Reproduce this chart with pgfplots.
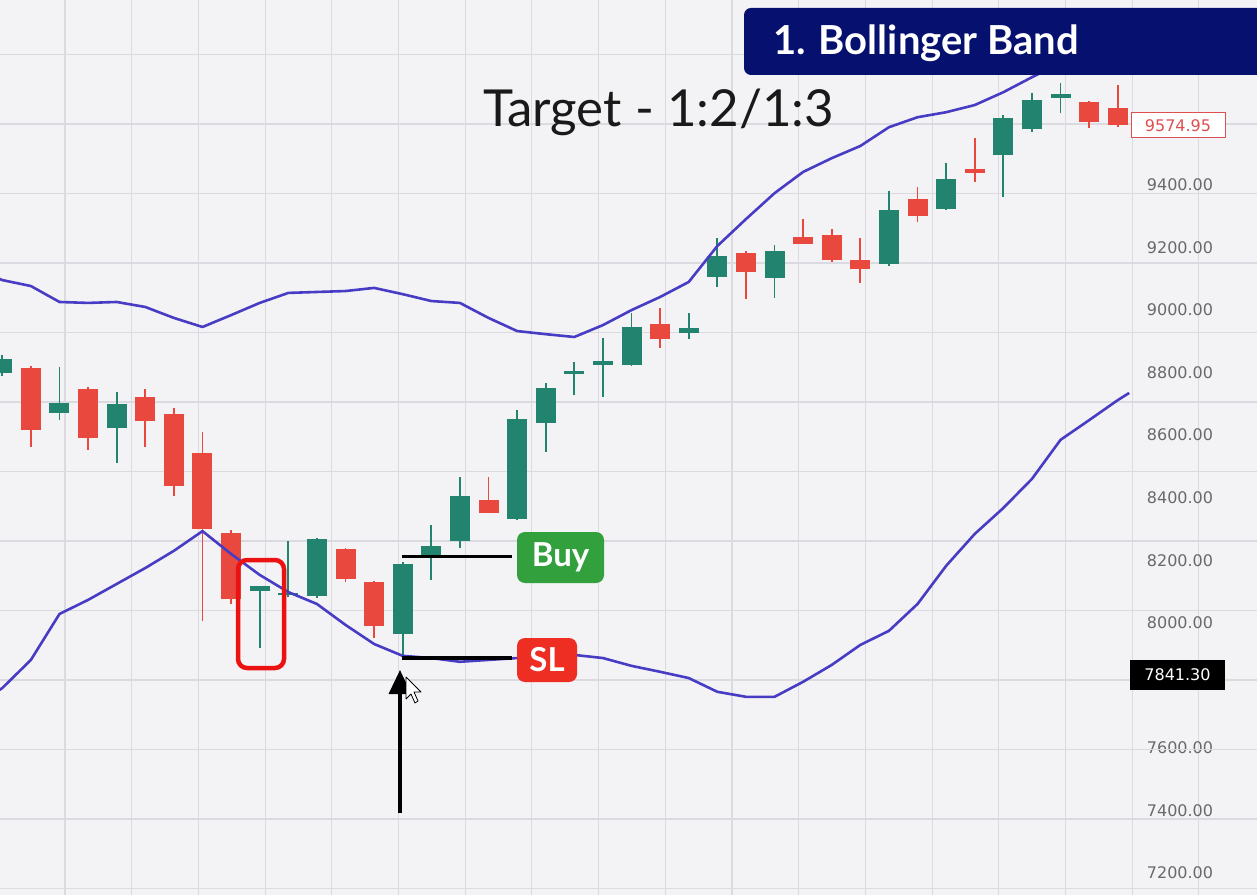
\documentclass[border=0pt]{standalone}
\usepackage{fontspec}
\setmainfont{Lato}
\newfontfamily\tickfont{DejaVu Sans}
\usepackage{pgfplots}
\usepackage{pgfplotstable}
\pgfplotsset{compat=1.18}
\usetikzlibrary{arrows.meta}

\definecolor{cgreen}{RGB}{34,132,110}
\definecolor{cred}{RGB}{232,72,62}
\definecolor{bandc}{RGB}{72,60,196}
\definecolor{gridc}{RGB}{218,218,224}
\definecolor{bgc}{RGB}{243,243,246}
\definecolor{tickgray}{RGB}{105,105,105}
\definecolor{navy}{RGB}{6,16,110}
\definecolor{buyg}{RGB}{50,160,60}
\definecolor{slred}{RGB}{238,45,35}
\definecolor{hired}{RGB}{236,18,18}
\definecolor{labred}{RGB}{222,80,80}

% candles: index, open, high, low, close
\pgfplotstableread{
i o h l c
0 8800 8855 8790 8845
2 8672 8819 8648 8704
4 8622 8739 8512 8700
9 8103 8118 7918 8118
10 8088 8260 8082 8096
11 8086 8270 8080 8267
14 7964 8195 7892 8188
15 8217 8313 8137 8246
16 8263 8467 8238 8405
18 8331 8680 8328 8651
19 8640 8766 8547 8752
20 8795 8835 8728 8805
21 8826 8910 8723 8836
22 8824 8991 8820 8947
24 8926 8990 8907 8942
25 9107 9230 9075 9173
27 9104 9208 9038 9189
31 9147 9382 9140 9320
33 9323 9469 9320 9418
35 9496 9624 9363 9615
36 9578 9693 9570 9672
37 9680 9727 9629 9690
}\upc

\pgfplotstableread{
i o h l c
1 8816 8820 8563 8617
3 8747 8755 8553 8590
5 8721 8747 8561 8646
6 8667 8686 8405 8437
7 8542 8611 8004 8299
8 8288 8295 8060 8075
12 8236 8240 8130 8139
13 8129 8135 7951 7988
17 8393 8467 8350 8352
23 8955 9006 8878 8907
26 9184 9190 9035 9123
28 9235 9290 9210 9213
29 9240 9258 9155 9160
30 9160 9231 9088 9130
32 9357 9395 9283 9301
34 9450 9549 9411 9439
38 9666 9670 9581 9602
39 9645 9720 9585 9592
}\downc

% bollinger bands
\pgfplotstableread{
i up dn
-0.1 9100 7785
0 9096 7791
1 9077 7881
2 9026 8028
3 9023 8073
4 9026 8124
5 9010 8175
6 8975 8230
7 8946 8293
8 8984 8220
9 9023 8153
10 9055 8098
11 9058 8060
12 9061 7993
13 9071 7932
14 9051 7894
15 9029 7887
16 9023 7875
17 8975 7881
18 8933 7887
19 8923 7894
20 8914 7897
21 8952 7887
22 9000 7862
23 9042 7843
24 9090 7823
25 9205 7779
26 9291 7763
27 9374 7763
28 9442 7811
29 9486 7865
30 9525 7929
31 9585 7974
32 9617 8060
33 9633 8182
34 9656 8284
35 9697 8367
36 9745 8460
37 9790 8585
38 9825 8648
39 9857 8712
39.4 9870 8735
}\bands

\begin{document}
\begin{tikzpicture}
\begin{axis}[
  at={(0,0)}, anchor=south west,
  scale only axis, width=1257pt, height=895pt,
  xmin=-0.08, xmax=43.87, ymin=7129, ymax=9992,
  axis background/.style={fill=bgc},
  axis line style={draw=none},
  tick style={draw=none},
  xtick={2.193,4.525,...,43.5}, xticklabels={}, xmajorgrids,
  ytick={7200,7400,7600,8000,8200,8400,8600,8800,9000,9200,9400},
  yticklabel pos=right, scaled y ticks=false,
  extra y ticks={7149.9,7372.2,...,9900}, extra y tick labels={},
  extra y tick style={grid=major},
  major grid style={draw=gridc, line width=1.1pt},
  /pgf/number format/assume math mode=true,
  /pgf/number format/fixed, /pgf/number format/fixed zerofill,
  /pgf/number format/precision=2, /pgf/number format/1000 sep={},
  yticklabel style={font=\tickfont\fontsize{16}{18}\selectfont, text=tickgray,
    anchor=center, xshift=-77pt},
]
% wicks
\addplot[draw=none, mark=none, error bars/.cd, y dir=plus, y explicit, error mark=none,
  error bar style={line width=1.8pt, draw=cgreen}]
  table[x=i, y=l, y error expr=\thisrow{h}-\thisrow{l}] {\upc};
\addplot[draw=none, mark=none, error bars/.cd, y dir=plus, y explicit, error mark=none,
  error bar style={line width=1.8pt, draw=cred}]
  table[x=i, y=l, y error expr=\thisrow{h}-\thisrow{l}] {\downc};
% bodies
\addplot[draw=none, mark=none, error bars/.cd, y dir=plus, y explicit, error mark=none,
  error bar style={line width=20pt, draw=cgreen}]
  table[x=i, y=o, y error expr=\thisrow{c}-\thisrow{o}] {\upc};
\addplot[draw=none, mark=none, error bars/.cd, y dir=plus, y explicit, error mark=none,
  error bar style={line width=20pt, draw=cred}]
  table[x=i, y=c, y error expr=\thisrow{o}-\thisrow{c}] {\downc};
% bands
\addplot[bandc, line width=2.6pt, line join=round] table[x=i, y=up] {\bands};
\addplot[bandc, line width=2.6pt, line join=round] table[x=i, y=dn] {\bands};
% entry and stop levels
\draw[black, line width=3pt] (axis cs:13.98,8213) -- (axis cs:17.82,8213);
\draw[black, line width=3.5pt] (axis cs:13.98,7887) -- (axis cs:17.82,7887);
\end{axis}

\begin{scope}[x=1pt, y=-1pt, shift={(0pt,895pt)}]
\fill[navy, rounded corners=7pt] (744,8) rectangle (1270,75);
\node[anchor=base west, text=white, inner sep=0,
  font=\fontsize{40}{48}\selectfont\bfseries] at (773,55) {1. Bollinger Band};
\node[anchor=base west, text=black!90, inner sep=0,
  font=\fontsize{51}{60}\selectfont] at (483,127) {Target - 1:2/1:3};
\node[fill=buyg, rounded corners=8pt, minimum width=87pt, minimum height=51pt,
  inner sep=0, text=white, font=\fontsize{33}{40}\selectfont\bfseries] at (560.5,557.5) {Buy};
\node[fill=slred, rounded corners=8pt, minimum width=60pt, minimum height=44pt,
  inner sep=0, text=white, font=\fontsize{33}{40}\selectfont\bfseries] at (547,660) {SL};
\draw[hired, line width=4.5pt, rounded corners=9pt] (238,560) rectangle (284,668);
\draw[black, line width=3.5pt, -{Triangle[length=24pt,width=22pt]}] (400,813) -- (400,670);
\draw[black, fill=white, line width=0.8pt, line join=round]
  (406,677) -- (406,699) -- (411,694) -- (415,703) -- (418,701) -- (414,692) -- (421,692) -- cycle;
\node[draw=labred, fill=white, text=labred, line width=1pt, inner sep=0,
  minimum width=94pt, minimum height=25pt,
  font=\tickfont\fontsize{16}{18}\selectfont] at (1178,125.5) {9574.95};
\node[fill=black, text=white, inner sep=0, minimum width=95pt, minimum height=30pt,
  font=\tickfont\fontsize{16}{18}\selectfont] at (1177.5,675) {7841.30};
\end{scope}
\pgfresetboundingbox
\useasboundingbox (0,0) rectangle (1257pt,895pt);
\end{tikzpicture}
\end{document}
